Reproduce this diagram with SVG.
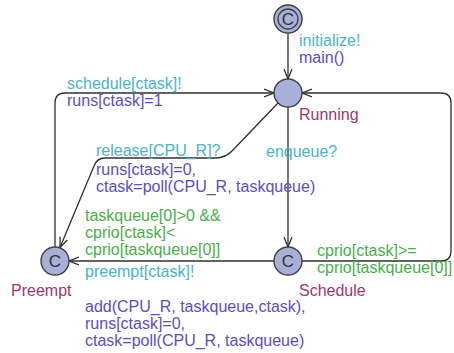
<svg xmlns="http://www.w3.org/2000/svg" width="454" height="353" viewBox="0 0 454 353">
<defs>
<style>
text{font-family:"Liberation Sans",Arial,sans-serif;font-size:16px}
.sync{fill:#4ab4c8}
.upd{fill:#5a4ec8}
.grd{fill:#48b048}
.name{fill:#a03868}
.loc{fill:#a9b0d8;stroke:#404048;stroke-width:1.4}
.c{fill:#303038;font-size:17px;text-anchor:middle}
.edge{fill:none;stroke:#303030;stroke-width:1.3}
</style>
<marker id="arr" viewBox="0 0 10 10" refX="10" refY="5" markerWidth="10" markerHeight="10" markerUnits="userSpaceOnUse" orient="auto">
<path d="M0,1 L10,5 L0,9" fill="none" stroke="#303030" stroke-width="1.3"/>
</marker>
</defs>
<rect width="454" height="353" fill="#ffffff"/>
<g id="connectors">
<path class="edge" d="M288,33 L288,79" marker-end="url(#arr)"/>
<path class="edge" d="M288,107 L288,247" marker-end="url(#arr)"/>
<path class="edge" d="M302,261 L441,261 Q451,261 451,251 L451,103 Q451,93 441,93 L302,93" marker-end="url(#arr)"/>
<path class="edge" d="M55,247 L55,103 Q55,93 65,93 L274,93" marker-end="url(#arr)"/>
<path class="edge" d="M278,103 L233,150 Q226,158 215,158 L105,158 Q97,158 94,166 L60,247.5" marker-end="url(#arr)"/>
<path class="edge" d="M274,261 L69,261" marker-end="url(#arr)"/>
</g>
<g id="init">
<circle class="loc" cx="288" cy="19" r="14"/>
<circle cx="288" cy="19" r="10" fill="none" stroke="#404048" stroke-width="1.3"/>
<text class="c" x="288" y="25">C</text>
</g>
<g id="running">
<circle class="loc" cx="288" cy="93" r="14"/>
<text class="name" x="299" y="120">Running</text>
</g>
<g id="preempt">
<circle class="loc" cx="55" cy="261" r="14"/>
<text class="c" x="55" y="267">C</text>
<text class="name" x="11" y="296">Preempt</text>
</g>
<g id="schedule">
<circle class="loc" cx="288" cy="261" r="14"/>
<text class="c" x="288" y="267">C</text>
<text class="name" x="299" y="296">Schedule</text>
</g>
<g id="labels">
<text class="sync" x="299" y="46">initialize!</text>
<text class="upd" x="299" y="63">main()</text>
<text class="sync" x="67" y="89">schedule[ctask]!</text>
<text class="upd" x="67" y="106">runs[ctask]=1</text>
<text class="sync" x="96" y="156">release[CPU_R]?</text>
<text class="upd" x="96" y="175">runs[ctask]=0,</text>
<text class="upd" x="96" y="192">ctask=poll(CPU_R, taskqueue)</text>
<text class="sync" x="266" y="157">enqueue?</text>
<text class="grd" x="85" y="221">taskqueue[0]&gt;0 &amp;&amp;</text>
<text class="grd" x="85" y="238">cprio[ctask]&lt;</text>
<text class="grd" x="85" y="255">cprio[taskqueue[0]]</text>
<text class="sync" x="85" y="277">preempt[ctask]!</text>
<text class="upd" x="85" y="312">add(CPU_R, taskqueue,ctask),</text>
<text class="upd" x="85" y="329">runs[ctask]=0,</text>
<text class="upd" x="85" y="346">ctask=poll(CPU_R, taskqueue)</text>
<text class="grd" x="317" y="256">cprio[ctask]&gt;=</text>
<text class="grd" x="317" y="273">cprio[taskqueue[0]]</text>
</g>
</svg>
